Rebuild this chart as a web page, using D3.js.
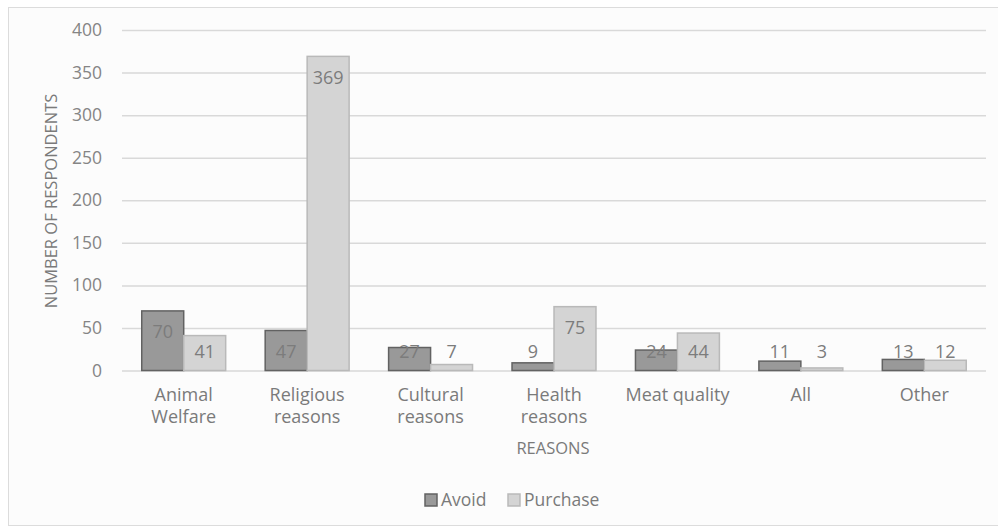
<!DOCTYPE html>
<html>
<head>
<meta charset="utf-8">
<script src="https://cdn.jsdelivr.net/npm/d3@7"></script>
<style>
  body { margin: 0; background: #fff; }
  svg { font-family: "Open Sans", sans-serif; }
</style>
</head>
<body>
<div id="chart"></div>
<script>
// data
const categories = [["Animal", "Welfare"], ["Religious", "reasons"], ["Cultural", "reasons"],
    ["Health", "reasons"], ["Meat quality"], ["All"], ["Other"]]
const series = ["Avoid", "Purchase"]
const avoidValues = [70, 47, 27, 9, 24, 11, 13]
const purchaseValues = [41, 369, 7, 75, 44, 3, 12]
const yTicks = [0, 50, 100, 150, 200, 250, 300, 350, 400]

const W = 998, H = 527
const colors = {Avoid: "#999999", Purchase: "#d4d4d4"}
const strokes = {Avoid: "#626262", Purchase: "#b9b9b9"}

const svg = d3.select("#chart").append("svg")
    .attr("width", W)
    .attr("height", H)

// chart frame
svg.append("rect")
    .attr("x", 8.5).attr("y", 7.5)
    .attr("width", W + 10).attr("height", H - 9)
    .attr("fill", "#fcfcfc")
    .attr("stroke", "#dcdcdc")

const keys = categories.map((c, i) => i)

let x0 = d3.scaleBand()
    .domain(keys)
    .range([122, 986])

let x1 = d3.scaleBand()
    .domain(series)
    .range([x0.bandwidth() * 0.16, x0.bandwidth() * 0.84])

let y = d3.scaleLinear()
    .domain([0, 400])
    .range([370.5, 30])

// gridlines + tick labels
let yAxis = svg.append("g")
    .attr("transform", "translate(122,0)")
    .call(d3.axisLeft(y).tickValues(yTicks).tickSize(-864).tickPadding(20))
yAxis.select(".domain").remove()
yAxis.selectAll(".tick line").attr("stroke", "#d9d9d9").attr("stroke-width", 1.5)
yAxis.selectAll(".tick text")
    .attr("fill", "#858585")
    .attr("font-size", "17.5px")
    .attr("font-family", "'Open Sans', sans-serif")

// bars
let rows = keys.map(i => ({i: i, Avoid: avoidValues[i], Purchase: purchaseValues[i]}))

let groups = svg.selectAll("g.cat")
    .data(rows)
    .join("g")
    .attr("class", "cat")
    .attr("transform", d => `translate(${x0(d.i)},0)`)

groups.selectAll("rect")
    .data(d => series.map(s => ({s: s, v: d[s]})))
    .join("rect")
    .attr("x", d => x1(d.s))
    .attr("y", d => y(d.v))
    .attr("width", x1.bandwidth())
    .attr("height", d => y(0) - y(d.v))
    .attr("fill", d => colors[d.s])
    .attr("stroke", d => strokes[d.s])
    .attr("stroke-width", 1.5)

// value labels (inside end, pushed up when the bar is short)
groups.selectAll("text.val")
    .data(d => series.map(s => ({s: s, v: d[s]})))
    .join("text")
    .attr("class", "val")
    .attr("x", d => x1(d.s) + x1.bandwidth() / 2)
    .attr("y", d => Math.min(y(d.v) + 21, y(0) - 19))
    .attr("dy", "0.36em")
    .attr("text-anchor", "middle")
    .attr("fill", "#7c7c7c")
    .attr("font-size", "18px")
    .text(d => d.v)

// category labels
svg.selectAll("text.cat-label")
    .data(rows)
    .join("text")
    .attr("class", "cat-label")
    .attr("x", d => x0(d.i) + x0.bandwidth() / 2)
    .attr("y", 395)
    .attr("text-anchor", "middle")
    .attr("fill", "#7a7a7a")
    .attr("font-size", "18px")
    .selectAll("tspan")
    .data(d => categories[d.i].map((t, j) => ({t: t, j: j, x: x0(d.i) + x0.bandwidth() / 2})))
    .join("tspan")
    .attr("x", d => d.x)
    .attr("dy", d => d.j === 0 ? "0.36em" : "22px")
    .text(d => d.t)

// axis titles
svg.append("text")
    .attr("x", 553).attr("y", 448)
    .attr("dy", "0.36em")
    .attr("text-anchor", "middle")
    .attr("fill", "#7a7a7a")
    .attr("font-size", "16.5px")
    .text("REASONS")

svg.append("text")
    .attr("transform", "translate(51,201) rotate(-90)")
    .attr("dy", "0.36em")
    .attr("text-anchor", "middle")
    .attr("fill", "#7a7a7a")
    .attr("font-size", "16.5px")
    .text("NUMBER OF RESPONDENTS")

// legend
let legendX = [425, 508]
let legend = svg.selectAll("g.legend")
    .data(series)
    .join("g")
    .attr("class", "legend")
    .attr("transform", (d, i) => `translate(${legendX[i]},494)`)

legend.append("rect")
    .attr("width", 12).attr("height", 12)
    .attr("fill", d => colors[d])
    .attr("stroke", d => strokes[d])
    .attr("stroke-width", 1.5)

legend.append("text")
    .attr("x", 16).attr("y", 6)
    .attr("dy", "0.36em")
    .attr("fill", "#7a7a7a")
    .attr("font-size", "17.5px")
    .text(d => d)
</script>
</body>
</html>
